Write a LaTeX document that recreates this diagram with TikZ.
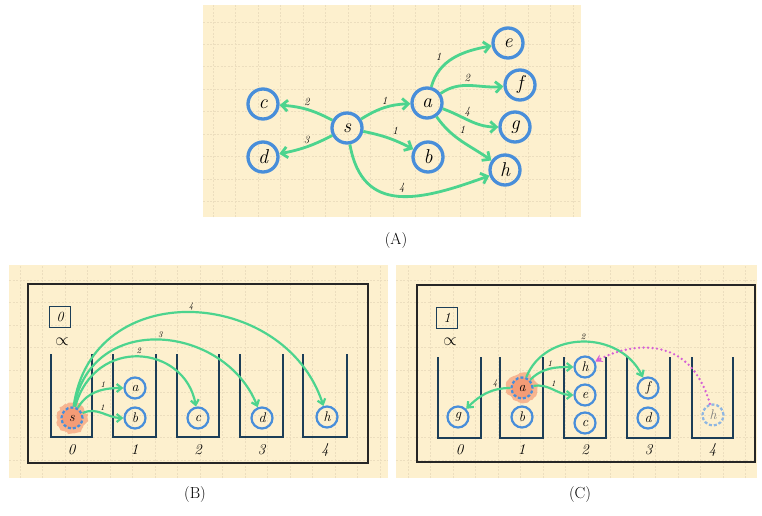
\documentclass[tikz,border=0pt]{standalone}
\usetikzlibrary{arrows.meta,decorations.pathmorphing}
\definecolor{paper}{RGB}{253,240,206}
\definecolor{gridline}{RGB}{236,222,190}
\definecolor{nodeblue}{RGB}{72,142,218}
\definecolor{edgegreen}{RGB}{76,212,142}
\definecolor{hlorange}{RGB}{245,156,118}
\definecolor{bucketnavy}{RGB}{28,62,88}
\definecolor{ghostblue}{RGB}{142,182,226}
\definecolor{ptrmagenta}{RGB}{214,96,214}

\begin{document}
\begin{tikzpicture}[
  x=1pt,y=1pt,
  gridln/.style={gridline,line width=0.6pt,dash pattern=on 2pt off 1.5pt},
  vtx/.style={circle,draw=nodeblue,line width=3.3pt,minimum size=30pt,inner sep=0pt,font=\fontsize{20}{22}\selectfont\itshape},
  svtx/.style={circle,draw=nodeblue,line width=2.2pt,minimum size=21pt,inner sep=0pt,font=\fontsize{14}{16}\selectfont\itshape},
  cur/.style={svtx,fill=hlorange,dash pattern=on 3pt off 2pt},
  ghost/.style={svtx,draw=ghostblue,dash pattern=on 3pt off 2pt,text=gray},
  ar/.style={-{Straight Barb[length=6pt,width=11pt]},edgegreen,line width=2.8pt},
  sar/.style={-{Straight Barb[length=5pt,width=8pt]},edgegreen,line width=2.2pt},
  ptr/.style={-{Stealth[length=7pt,width=8pt]},ptrmagenta,line width=2.6pt,line cap=round,dash pattern=on 0pt off 4.5pt},
  wlab/.style={text=black,font=\fontsize{11}{12}\selectfont\itshape,inner sep=2pt},
  swlab/.style={text=black,font=\fontsize{8.5}{9}\selectfont\itshape,inner sep=1.5pt},
  bucket/.style={draw=bucketnavy,line width=2pt},
  frame/.style={draw=black!85,line width=1.5pt},
  cnt/.style={draw=bucketnavy,line width=1.5pt,minimum size=21pt,inner sep=0pt,font=\fontsize{14}{16}\selectfont\itshape},
  prop/.style={font=\fontsize{17}{19}\selectfont,inner sep=0pt},
  idx/.style={font=\fontsize{15}{17}\selectfont\itshape,inner sep=0pt},
  caption/.style={font=\fontsize{16}{19}\selectfont,inner sep=0pt}
]
\useasboundingbox (0,0) rectangle (762,515);
\fill[white] (0,0) rectangle (762,515);

% PANEL A: graph
\begin{scope}
  \clip (203,298) rectangle (581,510);
  \fill[paper] (203,298) rectangle (581,510);
  \foreach \gx in {213,235.5,...,581} \draw[gridln] (\gx,298) -- (\gx,510);
  \foreach \gy in {493,470.6,...,298} \draw[gridln] (203,\gy) -- (581,\gy);
\end{scope}

\node[vtx] (s) at (347,387) {s};
\node[vtx] (c) at (263,411) {c};
\node[vtx] (d) at (263,358) {d};
\node[vtx] (a) at (427,412) {a};
\node[vtx] (b) at (428,358) {b};
\node[vtx] (e) at (508,472) {e};
\node[vtx] (f) at (520,430) {f};
\node[vtx] (g) at (515,388) {g};
\node[vtx] (h) at (505,345) {h};

\draw[ar] (s) to[bend right=12] node[wlab,above] {2} (c);
\draw[ar] (s) to[bend left=8] node[wlab,above] {3} (d);
\draw[ar] (s) to[bend left=15] node[wlab,above] {1} (a);
\draw[ar] (s) to[bend left=8] node[wlab,above right] {1} (b);
\draw[ar] (s) to[out=-80,in=200,looseness=1.3] node[wlab,above,pos=.52] {4} (h);
\draw[ar] (a) to[out=75,in=190] node[wlab,above left,pos=.35] {1} (e);
\draw[ar] (a) to[out=35,in=185] node[wlab,above,pos=.45] {2} (f);
\draw[ar] (a) to[out=-20,in=180] node[wlab,above,pos=.45] {4} (g);
\draw[ar] (a) to[out=-55,in=145] node[wlab,above right,pos=.4] {1} (h);

\node[caption] (capA) at (396,274) {(A)};

% PANEL B: buckets, first round
\begin{scope}
  \clip (9,37) rectangle (388,250);
  \fill[paper] (9,37) rectangle (388,250);
  \foreach \gx in {20,42.5,...,388} \draw[gridln] (\gx,37) -- (\gx,250);
  \foreach \gy in {235,212.5,...,37} \draw[gridln] (9,\gy) -- (388,\gy);
\end{scope}
\draw[frame] (28,52) rectangle (368,231);
\node[cnt] (Bcnt) at (60,198) {0};
\node[prop] (Bprop) at (62,173) {$\propto$};
\foreach \l/\r/\n in {51/92/0,113/156/1,177/219/2,240/283/3,303/347/4} {
  \draw[bucket] (\l,161) -- (\l,78) -- (\r,78) -- (\r,161);
  \node[idx] (Bi\n) at ({(\l+\r)/2},65) {\n};
}
\fill[hlorange,opacity=.7,decorate,decoration={random steps,segment length=2.5pt,amplitude=1.6pt}] (72,97) circle (15pt);
\node[cur] (Bs) at (72,97) {s};
\node[svtx] (Ba) at (135,127) {a};
\node[svtx] (Bb) at (135,97) {b};
\node[svtx] (Bc) at (198,97) {c};
\node[svtx] (Bd) at (262,97) {d};
\node[svtx] (Bh) at (327,98) {h};

\draw[sar] (Bs) to[out=60,in=180] node[swlab,above,pos=.62] {1} (Ba);
\draw[sar] (Bs) to[out=25,in=180] node[swlab,above,pos=.5] {1} (Bb);
\draw[sar] (Bs) .. controls (95,180) and (185,170) .. node[swlab,above] {2} (Bc);
\draw[sar] (Bs) .. controls (92,205) and (225,190) .. node[swlab,above] {3} (Bd);
\draw[sar] (Bs) .. controls (92,240) and (285,228) .. node[swlab,above] {4} (Bh);

\node[caption] (capB) at (195,20) {(B)};

% PANEL C: buckets, after relaxing a
\begin{scope}
  \clip (396,37) rectangle (757,250);
  \fill[paper] (396,37) rectangle (757,250);
  \foreach \gx in {408,430.5,...,757} \draw[gridln] (\gx,37) -- (\gx,250);
  \foreach \gy in {235,212.5,...,37} \draw[gridln] (396,\gy) -- (757,\gy);
\end{scope}
\draw[frame] (417,53) rectangle (755,230);
\node[cnt] (Ccnt) at (447,197) {1};
\node[prop] (Cprop) at (450,173) {$\propto$};
\foreach \l/\r/\n in {438/481/0,500/543/1,564/606/2,627/670/3,692/733/4} {
  \draw[bucket] (\l,158) -- (\l,77) -- (\r,77) -- (\r,158);
  \node[idx] (Ci\n) at ({(\l+\r)/2},65) {\n};
}
\fill[hlorange,opacity=.7,decorate,decoration={random steps,segment length=2.5pt,amplitude=1.6pt}] (522,127) circle (15pt);
\node[svtx] (Cg) at (458,98) {g};
\node[cur] (Ca) at (522,127) {a};
\node[svtx] (Cb) at (522,98) {b};
\node[svtx] (Ch) at (585,148) {h};
\node[svtx] (Ce) at (585,120) {e};
\node[svtx] (Cc) at (585,92) {c};
\node[svtx] (Cf) at (648,127) {f};
\node[svtx] (Cd) at (648,97) {d};
\node[ghost] (Cx) at (713,100) {h};

\draw[sar] (Ca) to[out=180,in=45] node[swlab,above,pos=.3] {4} (Cg);
\draw[sar] (Ca) to[out=45,in=180] node[swlab,above,pos=.5] {1} (Ch);
\draw[sar] (Ca) to[out=10,in=180] node[swlab,above,pos=.5] {1} (Ce);
\draw[sar] (Ca) .. controls (545,185) and (620,185) .. node[swlab,above] {2} (Cf);
\draw[ptr] (Cx) .. controls (690,182) and (630,172) .. (Ch);

\node[caption] (capC) at (580,20) {(C)};
\end{tikzpicture}
\end{document}
